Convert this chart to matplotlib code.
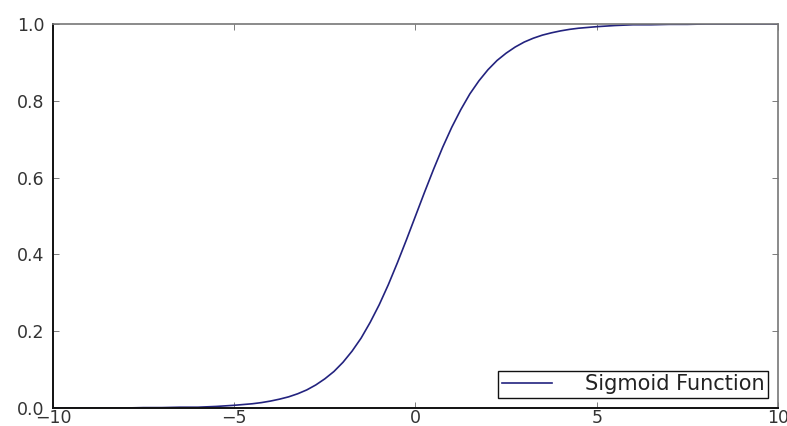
import matplotlib
matplotlib.use('Agg')
import matplotlib.pyplot as plt

# values
x_vals = [-10, -9.5, -9, -8.5, -8, -7.5, -7, -6.5, -6, -5.5,
          -5, -4.75, -4.5, -4.25, -4, -3.75, -3.5, -3.25, -3, -2.75,
          -2.5, -2.25, -2, -1.75, -1.5, -1.25, -1, -0.75, -0.5, -0.25,
          0, 0.25, 0.5, 0.75, 1, 1.25, 1.5, 1.75, 2, 2.25,
          2.5, 2.75, 3, 3.25, 3.5, 3.75, 4, 4.25, 4.5, 4.75,
          5, 5.5, 6, 6.5, 7, 7.5, 8, 8.5, 9, 9.5, 10]
y_vals = [0.000, 0.000, 0.000, 0.000, 0.000, 0.001, 0.001, 0.002, 0.002, 0.004,
          0.007, 0.009, 0.011, 0.014, 0.018, 0.023, 0.029, 0.037, 0.047, 0.060,
          0.076, 0.095, 0.119, 0.148, 0.182, 0.223, 0.269, 0.321, 0.378, 0.438,
          0.500, 0.562, 0.622, 0.679, 0.731, 0.777, 0.818, 0.852, 0.881, 0.905,
          0.924, 0.940, 0.953, 0.963, 0.971, 0.977, 0.982, 0.986, 0.989, 0.991,
          0.993, 0.996, 0.998, 0.998, 0.999, 0.999, 1.000, 1.000, 1.000, 1.000, 1.000]
x_ticks = [-10, -5, 0, 5, 10]
y_ticks = [0.0, 0.2, 0.4, 0.6, 0.8, 1.0]

fig = plt.figure(figsize=(7.87, 4.26), dpi=100)
ax = fig.add_axes([0.0673, 0.0423, 0.9213, 0.9014])

ax.plot(x_vals, y_vals, color='#23237f', linewidth=1.2, label='Sigmoid Function')

ax.set_xlim(-10, 10)
ax.set_ylim(0, 1)
ax.set_xticks(x_ticks)
ax.set_yticks(y_ticks)
ax.set_xticklabels(['\u221210', '\u22125', '0', '5', '10'])
ax.set_yticklabels(['%.1f' % v for v in y_ticks])
ax.tick_params(direction='in', length=4, width=0.6, color='#666666',
               top=True, right=True, labelsize=12.5, labelcolor='#333333', pad=6)
ax.tick_params(axis='x', pad=1)
for side in ['left', 'bottom']:
    ax.spines[side].set_linewidth(1.4)
    ax.spines[side].set_color('#111111')
for side in ['top', 'right']:
    ax.spines[side].set_linewidth(1.2)
    ax.spines[side].set_color('#777777')

leg = ax.legend(loc='lower right', fontsize=15, fancybox=False, framealpha=1,
                borderpad=0.15, handlelength=2.4, handletextpad=1.6,
                borderaxespad=0.5)
leg.get_frame().set_edgecolor('#111111')
leg.get_frame().set_linewidth(1.0)
for t in leg.get_texts():
    t.set_color('#222222')

fig.savefig('out.png', dpi=100)
